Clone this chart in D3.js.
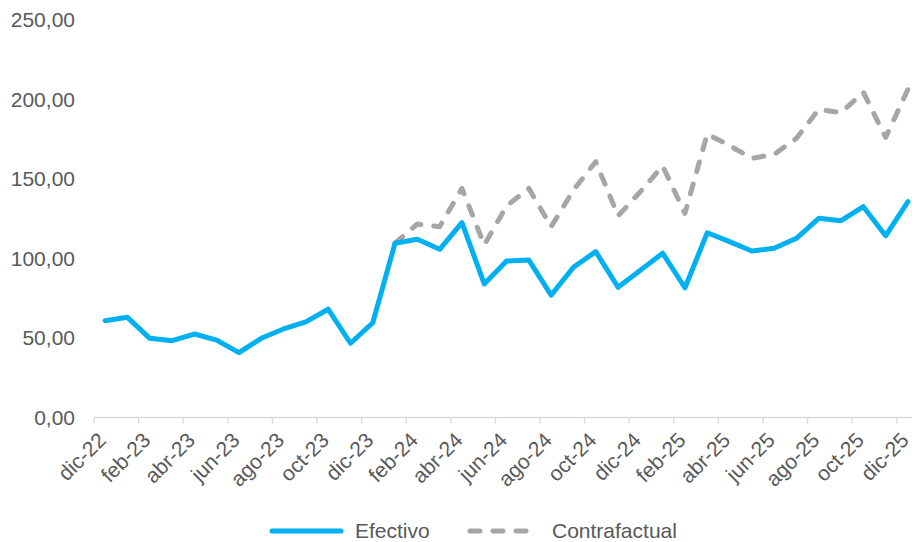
<!DOCTYPE html>
<html><head><meta charset="utf-8">
<script src="https://cdn.jsdelivr.net/npm/d3@7"></script>
<style>body{margin:0;background:#fff}svg{display:block}text{font-family:"Liberation Sans",Arial,sans-serif;fill:#595959}</style>
</head><body>
<script>
const months = ["dic-22","ene-23","feb-23","mar-23","abr-23","may-23","jun-23","jul-23","ago-23","sep-23","oct-23","nov-23",
"dic-23","ene-24","feb-24","mar-24","abr-24","may-24","jun-24","jul-24","ago-24","sep-24","oct-24","nov-24",
"dic-24","ene-25","feb-25","mar-25","abr-25","may-25","jun-25","jul-25","ago-25","sep-25","oct-25","nov-25","dic-25"];
const efectivo = [60.9,63.0,49.8,48.3,52.5,48.7,40.8,49.8,55.7,60.1,68.1,46.7,
59.6,109.6,112.1,105.8,122.5,84.0,98.4,99.0,77.0,94.5,104.3,81.9,
92.6,103.3,81.6,116.2,110.6,104.7,106.4,112.7,125.3,123.8,132.6,114.3,135.7];
const contrafactual = [null,null,null,null,null,null,null,null,null,null,null,null,
null,109.6,121.7,120.0,144.1,108.5,133.0,144.1,120.0,143.0,160.9,126.8,
142.0,158.2,128.4,178.3,171.0,163.0,165.5,175.6,193.8,191.7,204.5,176.2,206.4];
const yTicks = [0,50,100,150,200,250];
const seriesNames = ["Efectivo","Contrafactual"];
const colors = ["#00B0F0","#A6A6A6"];

const W=912,H=542;
const svg=d3.select("body").append("svg").attr("width",W).attr("height",H);
const x=d3.scaleBand().domain(months).range([94,94+37*22.3]);
const y=d3.scaleLinear().domain([0,250]).range([417.5,20]);
const cx=m=>x(m)+x.bandwidth()/2;

// y labels
svg.append("g").selectAll("text").data(yTicks).join("text")
 .attr("x",75).attr("y",d=>y(d)).attr("dy","0.35em").attr("text-anchor","end")
 .style("font-size","21px").text(d=>d3.format(".2f")(d).replace(".",","));

// x axis line
svg.append("line").attr("x1",x.range()[0]).attr("x2",x.range()[1]).attr("y1",y(0)).attr("y2",y(0))
 .attr("stroke","#D9D9D9").attr("stroke-width",1.3);
const tickMonths=months.filter((m,i)=>i%2===0);
svg.append("g").selectAll("line").data(tickMonths).join("line")
 .attr("x1",d=>x(d)).attr("x2",d=>x(d)).attr("y1",y(0)).attr("y2",y(0)+6)
 .attr("stroke","#D9D9D9").attr("stroke-width",1.3);
svg.append("g").selectAll("text").data(tickMonths).join("text")
 .attr("transform",d=>`translate(${cx(d)+2},${y(0)+24}) rotate(-45)`)
 .attr("text-anchor","end").style("font-size","21px").text(d=>d);

// lines
const line=d3.line().defined(d=>d.v!=null).x(d=>cx(d.m)).y(d=>y(d.v));
svg.append("path").datum(months.map((m,i)=>({m,v:contrafactual[i]})))
 .attr("d",line).attr("fill","none").attr("stroke",colors[1]).attr("stroke-width",5)
 .attr("stroke-dasharray","10 13").attr("stroke-linecap","round").attr("stroke-linejoin","round");
svg.append("path").datum(months.map((m,i)=>({m,v:efectivo[i]})))
 .attr("d",line).attr("fill","none").attr("stroke",colors[0]).attr("stroke-width",5)
 .attr("stroke-linejoin","round").attr("stroke-linecap","round");

// legend
const lg=svg.append("g");
lg.append("line").attr("x1",272).attr("x2",341).attr("y1",531).attr("y2",531)
 .attr("stroke",colors[0]).attr("stroke-width",5).attr("stroke-linecap","round");
lg.append("text").attr("x",355).attr("y",531).attr("dy","0.35em").style("font-size","21px").text(seriesNames[0]);
lg.append("line").attr("x1",470).attr("x2",533).attr("y1",531).attr("y2",531)
 .attr("stroke",colors[1]).attr("stroke-width",5).attr("stroke-linecap","round").attr("stroke-dasharray","10 13");
lg.append("text").attr("x",552).attr("y",531).attr("dy","0.35em").style("font-size","21px").text(seriesNames[1]);
</script>
</body></html>
